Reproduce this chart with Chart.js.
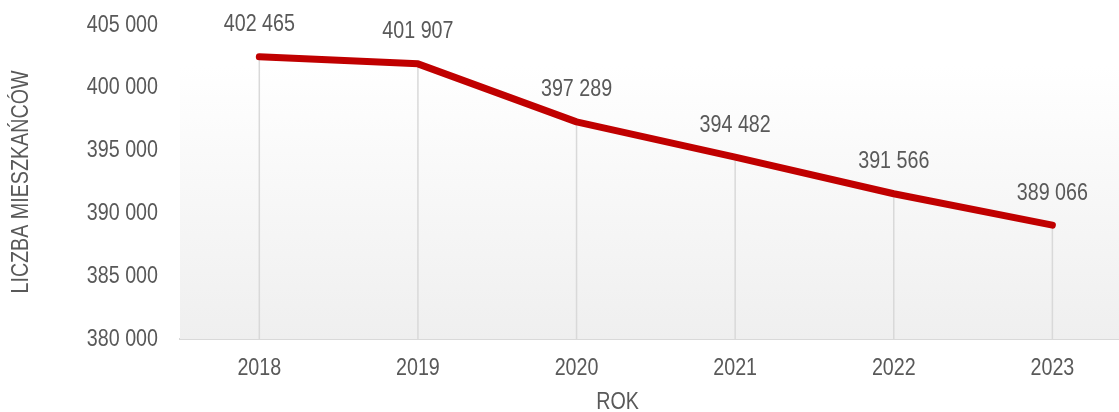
<!DOCTYPE html>
<html lang="pl">

<head>
    <meta charset="UTF-8">
    <title>Liczba mieszkańców</title>
    <style>
        body {
            margin: 0;
            background: #ffffff;
        }

        .container-wykres {
            width: 1119px;
            height: 412px;
        }
    </style>
</head>

<body>
    <div class="container-wykres">
        <canvas id="graficoLudnosc" width="1119" height="412"></canvas>
    </div>
</body>

</html>
<script src="https://cdn.jsdelivr.net/npm/chart.js@4"></script>
<script>
    // dane
    const lata = ['2018', '2019', '2020', '2021', '2022', '2023'];
    const mieszkancy = [402465, 401907, 397289, 394482, 391566, 389066];
    const osY = [380000, 385000, 390000, 395000, 400000, 405000];

    const fonte = "'Liberation Sans Narrow', 'Liberation Sans', Arial, sans-serif";
    const corTexto = '#595959';
    // brak kroju "Narrow" -> zwężamy zwykły Liberation Sans
    const zwezenie = 0.82;

    function formatar(v) {
        return String(v).replace(/\B(?=(\d{3})+(?!\d))/g, ' ');
    }

    function napis(ctx, tekst, x, y, wyrownanie, obrot) {
        ctx.save();
        ctx.font = '24px ' + fonte;
        ctx.fillStyle = corTexto;
        ctx.textAlign = wyrownanie;
        ctx.textBaseline = 'middle';
        ctx.translate(x, y);
        if (obrot) {
            ctx.rotate(obrot);
        }
        ctx.scale(zwezenie, 1);
        ctx.fillText(tekst, 0, 0);
        ctx.restore();
    }

    // tło obszaru wykresu (gradient), linie pionowe, etykiety i opisy osi
    const dodatki = {
        id: 'dodatki',
        beforeDatasetsDraw(chart) {
            const ctx = chart.ctx;
            const a = chart.chartArea;
            const g = ctx.createLinearGradient(0, a.top + 40, 0, a.bottom);
            g.addColorStop(0, '#ffffff');
            g.addColorStop(1, '#efefef');
            ctx.save();
            ctx.fillStyle = g;
            ctx.fillRect(a.left, a.top + 40, a.right - a.left, a.bottom - a.top - 40);

            ctx.strokeStyle = '#d9d9d9';
            ctx.lineWidth = 1.5;
            chart.getDatasetMeta(0).data.forEach(function (p) {
                ctx.beginPath();
                ctx.moveTo(p.x, p.y);
                ctx.lineTo(p.x, a.bottom);
                ctx.stroke();
            });
            ctx.restore();
        },
        afterDatasetsDraw(chart) {
            const ctx = chart.ctx;
            chart.getDatasetMeta(0).data.forEach(function (p, i) {
                napis(ctx, formatar(mieszkancy[i]), p.x, p.y - 32, 'center');
            });
        },
        afterDraw(chart) {
            const ctx = chart.ctx;
            const a = chart.chartArea;
            const sx = chart.scales.x;
            const sy = chart.scales.y;

            osY.forEach(function (v) {
                napis(ctx, formatar(v), a.left - 22, sy.getPixelForValue(v), 'right');
            });
            lata.forEach(function (r, i) {
                napis(ctx, r, sx.getPixelForValue(i), a.bottom + 29, 'center');
            });

            napis(ctx, 'ROK', a.left + (a.right - a.left) * 0.466, 402, 'center');
            napis(ctx, 'LICZBA MIESZKAŃCÓW', 21, (a.top + a.bottom) / 2, 'center', -Math.PI / 2);
        }
    };

    const grafico = document.getElementById('graficoLudnosc').getContext('2d');

    new Chart(grafico, {
        type: 'line',
        data: {
            datasets: [{
                label: 'Liczba mieszkańców',
                data: mieszkancy.map(function (v, i) { return { x: i, y: v }; }),
                borderColor: '#c00000',
                backgroundColor: '#c00000',
                borderWidth: 7,
                borderCapStyle: 'round',
                borderJoinStyle: 'round',
                pointRadius: 0,
                tension: 0,
                clip: false
            }]
        },
        plugins: [dodatki],
        options: {
            responsive: false,
            animation: false,
            layout: {
                padding: { top: 25, right: 0, bottom: 0, left: 0 }
            },
            plugins: {
                legend: { display: false },
                tooltip: { enabled: false }
            },
            scales: {
                x: {
                    type: 'linear',
                    min: -0.5,
                    max: 5.42,
                    afterFit: function (scale) { scale.height = 73; },
                    afterBuildTicks: function (scale) {
                        scale.ticks = lata.map(function (r, i) { return { value: i }; });
                    },
                    ticks: { display: false },
                    grid: { display: false },
                    border: { display: true, color: '#d9d9d9', width: 2 }
                },
                y: {
                    min: 380000,
                    max: 405000,
                    afterFit: function (scale) { scale.width = 180; },
                    afterBuildTicks: function (scale) {
                        scale.ticks = osY.map(function (v) { return { value: v }; });
                    },
                    ticks: { display: false },
                    grid: { display: false },
                    border: { display: false }
                }
            }
        }
    });
</script>
